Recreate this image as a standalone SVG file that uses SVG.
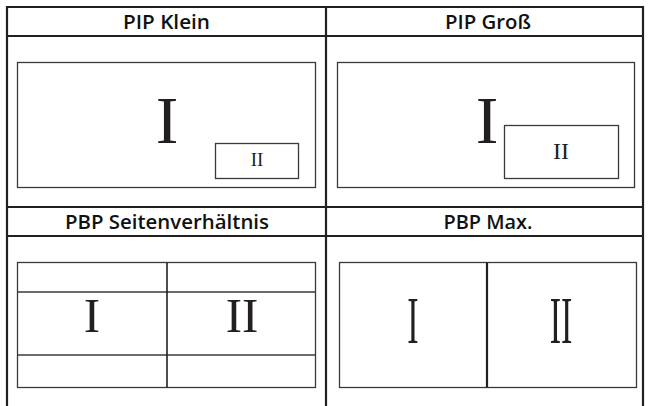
<svg xmlns="http://www.w3.org/2000/svg" width="648" height="406" viewBox="0 0 648 406">
<style>
.grid{stroke:#231f20;stroke-width:2.2;fill:none}
.frame{stroke:#3a3a3a;stroke-width:1.3;fill:none}
.div{stroke:#231f20;stroke-width:1.6}
.thick{stroke:#231f20;stroke-width:2.2}
.hdr{font-family:"Open Sans","Liberation Sans",sans-serif;font-weight:600;font-size:19px;fill:#111;text-anchor:middle}
.rn{font-family:"Liberation Serif","DejaVu Serif",serif;fill:#231f20;text-anchor:middle}
</style>
<rect width="648" height="406" fill="#fff"/>
<g id="connectors">
<line class="grid" x1="7" y1="7" x2="643" y2="7"/>
<line class="grid" x1="7" y1="36" x2="643" y2="36"/>
<line class="grid" x1="7" y1="207" x2="643" y2="207"/>
<line class="grid" x1="7" y1="236" x2="643" y2="236"/>
<line class="grid" x1="7" y1="6" x2="7" y2="406"/>
<line class="grid" x1="326" y1="6" x2="326" y2="406"/>
<line class="grid" x1="643" y1="6" x2="643" y2="406"/>
</g>
<g id="pip-klein">
<text class="hdr" x="166.5" y="29" textLength="87" lengthAdjust="spacingAndGlyphs">PIP Klein</text>
<rect class="frame" x="17.5" y="62.5" width="298" height="125"/>
<text class="rn" x="167" y="143" font-size="68">I</text>
<rect class="frame" x="215.5" y="143.5" width="83" height="35"/>
<text class="rn" x="257" y="166" font-size="19">II</text>
</g>
<g id="pip-gross">
<text class="hdr" x="488" y="29" textLength="86" lengthAdjust="spacingAndGlyphs">PIP Groß</text>
<rect class="frame" x="337.5" y="62.5" width="297" height="125"/>
<text class="rn" x="487" y="143" font-size="68">I</text>
<rect class="frame" x="504.5" y="125.5" width="114" height="53"/>
<text class="rn" x="561" y="159" font-size="24">II</text>
</g>
<g id="pbp-seitenverhaeltnis">
<text class="hdr" x="167" y="229" textLength="204" lengthAdjust="spacingAndGlyphs">PBP Seitenverhältnis</text>
<rect class="frame" x="17.5" y="262.5" width="298" height="125"/>
<line class="frame" x1="17.5" y1="292" x2="315.5" y2="292"/>
<line class="frame" x1="17.5" y1="355" x2="315.5" y2="355"/>
<line class="div" x1="167" y1="262.5" x2="167" y2="387.5"/>
<text class="rn" x="92" y="332" font-size="49">I</text>
<text class="rn" x="242" y="332" font-size="49">II</text>
</g>
<g id="pbp-max">
<text class="hdr" x="488" y="229" textLength="89" lengthAdjust="spacingAndGlyphs">PBP Max.</text>
<rect class="frame" x="339.5" y="262.5" width="297" height="125"/>
<line class="thick" x1="487" y1="262.5" x2="487" y2="387.5"/>
<text class="rn" font-size="68" transform="translate(413,343) scale(0.5,1)">I</text>
<text class="rn" font-size="68" transform="translate(561,343) scale(0.5,1)">II</text>
</g>
</svg>
